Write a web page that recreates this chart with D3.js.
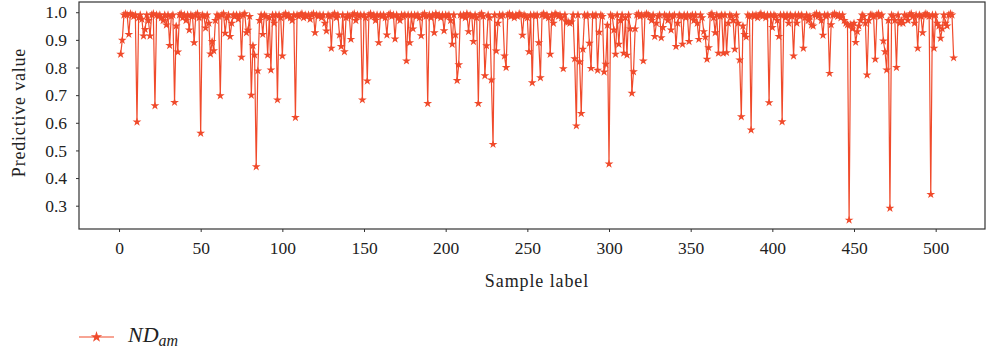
<!DOCTYPE html>
<html><head><meta charset="utf-8">
<script src="https://cdn.jsdelivr.net/npm/d3@7"></script>
<style>
html,body{margin:0;padding:0;background:#fff;}
svg{display:block;}
svg text{font-family:"Liberation Serif","Times New Roman",Times,serif !important;fill:#222;}
</style></head>
<body>
<svg id="chart" width="986" height="354"></svg>
<script>
// ---- data ----
const seriesName = "ND";
const seriesSub = "am";
const xTicks = [0,50,100,150,200,250,300,350,400,450,500];
const yTicks = [0.3,0.4,0.5,0.6,0.7,0.8,0.9,1.0];
const xLabel = "Sample label";
const yLabel = "Predictive value";
const values = [
0.848,0.899,0.99,0.995,0.99,0.92,0.995,0.99,0.985,0.99,
0.603,0.98,0.99,0.975,0.914,0.938,0.99,0.97,0.914,0.99,
0.995,0.662,0.99,0.985,0.99,0.98,0.97,0.99,0.954,0.99,
0.88,0.985,0.99,0.674,0.95,0.856,0.99,0.995,0.98,0.99,
0.97,0.99,0.936,0.99,0.985,0.89,0.99,0.995,0.98,0.562,
0.99,0.985,0.943,0.99,0.96,0.849,0.894,0.861,0.97,0.99,
0.985,0.698,0.99,0.995,0.924,0.98,0.99,0.912,0.96,0.99,
0.985,0.99,0.975,0.99,0.837,0.99,0.995,0.926,0.935,0.985,
0.70,0.879,0.845,0.441,0.788,0.97,0.99,0.92,0.99,0.985,
0.845,0.98,0.791,0.99,0.96,0.99,0.683,0.99,0.98,0.842,
0.99,0.995,0.985,0.99,0.98,0.97,0.99,0.619,0.99,0.985,
0.99,0.995,0.98,0.99,0.985,0.99,0.975,0.99,0.995,0.926,
0.99,0.985,0.99,0.98,0.99,0.96,0.932,0.99,0.985,0.87,
0.99,0.995,0.98,0.99,0.918,0.876,0.99,0.857,0.98,0.99,
0.985,0.902,0.99,0.995,0.97,0.99,0.985,0.99,0.683,0.99,
0.98,0.751,0.99,0.995,0.985,0.99,0.97,0.99,0.89,0.99,
0.985,0.99,0.98,0.918,0.99,0.995,0.985,0.99,0.903,0.99,
0.98,0.97,0.99,0.985,0.99,0.824,0.99,0.89,0.99,0.94,
0.99,0.985,0.99,0.98,0.915,0.99,0.995,0.985,0.67,0.99,
0.98,0.99,0.926,0.995,0.985,0.99,0.98,0.99,0.933,0.99,
0.985,0.99,0.97,0.884,0.99,0.918,0.753,0.81,0.99,0.985,
0.99,0.98,0.995,0.93,0.99,0.985,0.894,0.99,0.98,0.67,
0.99,0.995,0.985,0.77,0.879,0.99,0.98,0.755,0.522,0.99,
0.86,0.96,0.99,0.985,0.99,0.842,0.80,0.99,0.995,0.985,
0.99,0.98,0.99,0.985,0.995,0.99,0.917,0.99,0.985,0.98,
0.857,0.99,0.745,0.99,0.985,0.99,0.89,0.763,0.99,0.995,
0.985,0.99,0.98,0.848,0.99,0.96,0.995,0.99,0.985,0.99,
0.98,0.796,0.99,0.965,0.965,0.96,0.965,0.99,0.832,0.589,
0.99,0.821,0.634,0.866,0.99,0.985,0.99,0.888,0.797,0.99,
0.985,0.99,0.79,0.928,0.99,0.985,0.784,0.812,0.953,0.451,
0.99,0.985,0.936,0.848,0.99,0.884,0.97,0.99,0.852,0.98,
0.845,0.99,0.94,0.707,0.785,0.94,0.99,0.995,0.985,0.99,
0.824,0.99,0.995,0.99,0.985,0.97,0.99,0.912,0.96,0.985,
0.99,0.908,0.945,0.99,0.985,0.97,0.99,0.936,0.985,0.99,
0.876,0.96,0.99,0.985,0.884,0.99,0.98,0.99,0.894,0.985,
0.99,0.97,0.99,0.96,0.902,0.99,0.98,0.93,0.91,0.83,
0.872,0.99,0.995,0.98,0.926,0.99,0.852,0.985,0.99,0.852,
0.99,0.854,0.96,0.99,0.985,0.97,0.866,0.99,0.96,0.827,
0.622,0.95,0.92,0.91,0.99,0.985,0.574,0.99,0.985,0.99,
0.98,0.99,0.995,0.985,0.99,0.98,0.99,0.673,0.99,0.945,
0.99,0.985,0.97,0.912,0.99,0.604,0.99,0.98,0.99,0.96,
0.99,0.985,0.842,0.99,0.96,0.99,0.985,0.99,0.87,0.98,
0.99,0.97,0.985,0.954,0.95,0.99,0.995,0.985,0.99,0.97,
0.917,0.99,0.985,0.99,0.779,0.955,0.99,0.995,0.99,0.985,
0.99,0.98,0.99,0.97,0.96,0.955,0.248,0.955,0.94,0.96,
0.891,0.93,0.95,0.97,0.99,0.985,0.96,0.773,0.97,0.99,
0.99,0.985,0.83,0.99,0.995,0.985,0.99,0.896,0.857,0.791,
0.97,0.291,0.99,0.985,0.97,0.80,0.99,0.96,0.97,0.96,
0.99,0.985,0.97,0.99,0.995,0.985,0.96,0.99,0.87,0.99,
0.985,0.926,0.99,0.995,0.99,0.985,0.341,0.99,0.87,0.99,
0.96,0.95,0.906,0.94,0.99,0.96,0.95,0.99,0.995,0.99,
0.835
];

// ---- layout ----
const L = 79, R = 985, T = 2, B = 229;
const color = "#F04A2B";
const FONT = "Liberation Serif";
const svg = d3.select("#chart");

const x = d3.scaleLinear().domain([-24.5, 530.2]).range([L, R]);
const y = d3.scaleLinear().domain([0.2157, 1.037]).range([B, T]);

// frame
svg.append("rect").attr("x", L).attr("y", T).attr("width", R - L).attr("height", B - T)
  .attr("fill", "none").attr("stroke", "#333").attr("stroke-width", 1.2);

// axes
const xAxis = d3.axisBottom(x).tickValues(xTicks).tickSize(3).tickPadding(10).tickFormat(d3.format("d"));
const gx = svg.append("g").attr("transform", `translate(0,${B})`).call(xAxis).attr("font-family", FONT);
gx.select(".domain").remove();
gx.selectAll("line").attr("stroke", "#333");
gx.selectAll("text").attr("font-family", FONT).style("font-size", "17.5px").attr("fill", "#222");

const yAxis = d3.axisLeft(y).tickValues(yTicks).tickSize(3).tickPadding(9).tickFormat(d3.format(".1f"));
const gy = svg.append("g").attr("transform", `translate(${L},0)`).call(yAxis).attr("font-family", FONT);
gy.select(".domain").remove();
gy.selectAll("line").attr("stroke", "#333");
gy.selectAll("text").attr("font-family", FONT).style("font-size", "17.5px").attr("fill", "#222");

// titles
svg.append("text").attr("x", (L + R) / 2 + 5).attr("y", 287).attr("text-anchor", "middle")
  .attr("font-family", FONT).style("font-size", "18px").style("letter-spacing", "0.9px").text(xLabel);
svg.append("text").attr("transform", `translate(25,${(T + B) / 2 - 3}) rotate(-90)`)
  .attr("font-family", FONT).attr("text-anchor", "middle").style("font-size", "18px").style("letter-spacing", "0.8px").text(yLabel);

// series
const pts = values.map((v, i) => [i + 1, v]);
svg.append("clipPath").attr("id", "clip").append("rect")
  .attr("x", L).attr("y", T).attr("width", R - L).attr("height", B - T);
const plot = svg.append("g").attr("clip-path", "url(#clip)");
plot.append("path").datum(pts)
  .attr("d", d3.line().x(d => x(d[0])).y(d => y(d[1])))
  .attr("fill", "none").attr("stroke", color).attr("stroke-width", 1.2);
const star = d3.symbol().type(d3.symbolStar).size(24);
plot.selectAll("path.pt").data(pts).enter().append("path").attr("class", "pt")
  .attr("transform", d => `translate(${x(d[0])},${y(d[1])})`)
  .attr("d", star).attr("fill", color);

// legend
const ly = 337;
svg.append("line").attr("x1", 79).attr("x2", 114).attr("y1", ly).attr("y2", ly)
  .attr("stroke", color).attr("stroke-width", 1.2);
svg.append("path").attr("transform", `translate(96.5,${ly})`)
  .attr("d", d3.symbol().type(d3.symbolStar).size(40)).attr("fill", color);
const lt = svg.append("text").attr("x", 128).attr("y", 342).attr("font-family", FONT)
  .style("font-size", "22px").style("font-style", "italic");
lt.append("tspan").text(seriesName);
lt.append("tspan").attr("dy", 4).style("font-size", "16px").text(seriesSub);
</script>
</body></html>
